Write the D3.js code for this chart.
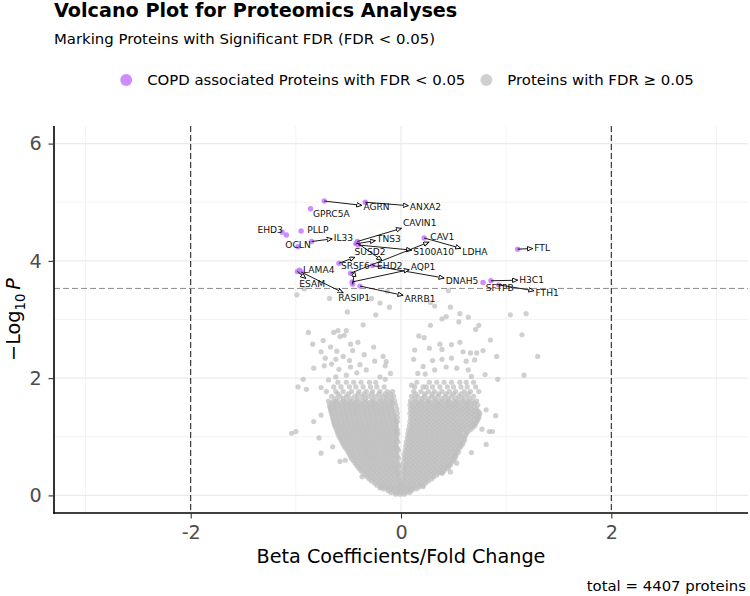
<!DOCTYPE html>
<html><head><meta charset="utf-8">
<script src="https://cdn.jsdelivr.net/npm/d3@7"></script>
<style>body{margin:0;background:#fff} text{font-family:"DejaVu Sans",sans-serif}</style>
</head><body><svg id="chart" width="750" height="596"></svg>
<script>
// ---------- data ----------
const titleText = "Volcano Plot for Proteomics Analyses";
const subtitleText = "Marking Proteins with Significant FDR (FDR < 0.05)";
const legendLabels = ["COPD associated Proteins with FDR < 0.05", "Proteins with FDR \u2265 0.05"];
const xTitle = "Beta Coefficients/Fold Change";
const totalProteins = 4407;
const xTicks = [-2, 0, 2], xTickLabels = ["-2", "0", "2"];
const yTicks = [0, 2, 4, 6], yTickLabels = ["0", "2", "4", "6"];
const xMinor = [-3, -1, 1, 3], yMinor = [1, 3, 5];
const fcCutoff = [-2, 2];
const pCutoff = 3.53;

// significant proteins
const sigNames = ["AGRN","ANXA2","GPRC5A","EHD3","OCLN","PLLP","","IL33","CAVIN1","TNS3","S100A10","EHD2","DNAH5","LDHA","SUSD2","CAV1","SRSF6","AQP1","ARRB1","LAMA4","ESAM","RASIP1","FTL","SFTPB","H3C1","FTH1"];
const sigBeta  = [-0.73,-0.34,-0.86,-1.13,-1.09,-0.95,-0.98,-0.85,-0.415,-0.43,-0.405,-0.42,-0.27,0.22,-0.59,-0.48,-0.46,-0.465,-0.39,-0.965,-0.985,-0.95,1.11,0.78,0.855,0.93];
const sigLogP  = [5.02,5.00,4.89,4.49,4.44,4.51,4.24,4.33,4.33,4.29,4.27,4.31,3.92,4.39,3.96,3.79,3.60,3.64,3.57,3.84,3.82,3.81,4.20,3.63,3.66,3.59];
// repelled label centres (data units)
const labelX = [-0.233,0.233,-0.663,-1.245,-0.979,-0.791,null,-0.548,0.178,-0.116,0.311,-0.107,0.58,0.703,-0.295,0.393,-0.434,0.209,0.181,-0.782,-0.844,-0.445,1.342,0.939,1.242,1.39];
const labelY = [4.918,4.918,4.80,4.53,4.28,4.53,null,4.40,4.648,4.384,4.148,3.915,3.654,4.148,4.154,4.41,3.915,3.90,3.35,3.85,3.607,3.363,4.217,3.539,3.676,3.454];

// non-significant proteins: scattered ones [beta, -log10 p]
const grayPoints = [
[-0.99,3.42],[-0.68,3.36],[-0.20,3.28],[-0.51,3.13],[-0.24,3.08],[-0.36,2.91],[-0.88,2.78],[-0.64,2.78],[-0.60,2.81],[-0.52,2.81],
[-0.84,2.58],[-0.74,2.64],[-0.58,2.71],[-0.54,2.73],[-0.48,2.58],[-0.41,2.61],[-0.76,2.45],[-0.67,2.53],[-0.61,2.46],[-0.46,2.47],
[-0.26,2.53],[-0.72,2.34],[-0.62,2.32],[-0.55,2.37],[-0.49,2.30],[-0.35,2.40],[-0.17,2.37],[-0.14,2.28],[-0.83,2.17],[-0.73,2.21],
[-0.66,2.24],[-0.59,2.15],[-0.48,2.19],[-0.39,2.23],[-0.25,2.29],[-0.15,2.21],[-0.93,1.98],[-0.98,1.85],[-0.90,1.81],[-0.76,1.84],
[-0.69,1.97],[-0.62,2.02],[-0.52,2.05],[-0.42,2.09],[-0.33,2.14],[-0.20,2.02],[-0.15,1.98],[-0.10,2.08],
[-0.92,3.52],[-0.28,3.36],[-0.13,3.48],[-0.11,3.21],
[0.45,3.49],[0.28,3.29],[0.32,3.23],[0.47,3.21],[0.39,3.01],[0.43,3.05],[0.56,3.10],[0.64,3.04],[0.55,2.96],[0.28,2.90],
[0.74,2.90],[0.71,2.83],[0.85,2.65],[0.17,2.72],[0.22,2.69],[0.37,2.58],[0.48,2.57],[0.56,2.61],[0.13,2.48],[0.27,2.51],
[0.39,2.49],[0.59,2.45],[0.66,2.43],[0.72,2.43],[0.78,2.47],[0.91,2.37],[0.12,2.32],[0.30,2.30],[0.39,2.32],[0.48,2.34],
[0.62,2.29],[0.70,2.31],[0.21,2.20],[0.32,2.14],[0.43,2.19],[0.53,2.17],[0.64,2.14],[0.16,2.08],[0.23,2.07],[0.67,2.03],
[0.80,2.06],[0.92,1.98],[0.10,1.88],[0.21,1.85],
[1.04,3.08],[1.19,3.10],[1.15,2.74],[1.30,2.37],[1.17,2.05],
[-1.04,1.06],[-1.00,1.09],[-0.83,1.26],[-0.76,1.37],[-0.78,0.98],[-0.76,0.72],[-0.65,0.83],
[0.90,1.36],[0.84,1.09],[0.87,1.09],[0.81,0.87],[0.67,0.73],
[-0.58,0.58],[-0.53,0.60],[-0.37,0.32],[-0.20,0.13],[0.53,0.55],[0.47,0.40],[0.39,0.38],[0.21,0.15],[0.77,1.13],[0.81,1.46]
];
// non-significant proteins: dense core, one row per -log10 p level
const coreRowY = [0.02,0.08,0.14,0.21,0.28,0.35,0.42,0.49,0.56,0.63,0.70,0.77,0.84,0.91,0.98,1.05,1.12,1.19,1.26,1.33,1.40,1.47,1.54,1.61,1.69,1.77,1.85,1.93];
const coreRowX = [
[-0.05,-0.01,0.03],
[-0.12,-0.074,-0.03,0.016,0.06,0.1],
[-0.19,-0.146,-0.1,-0.056,-0.01,0.034,0.081,0.124,0.17],
[-0.25,-0.21,-0.163,-0.12,-0.076,-0.03,0.011,0.056,0.1,0.146,0.19,0.234],
[-0.3,-0.256,-0.21,-0.166,-0.12,-0.074,-0.03,0.015,0.06,0.104,0.151,0.195,0.24,0.29],
[-0.34,-0.3,-0.254,-0.21,-0.165,-0.121,-0.076,-0.03,0.024,0.07,0.115,0.16,0.206,0.25,0.296,0.34],
[-0.38,-0.334,-0.29,-0.246,-0.2,-0.155,-0.11,-0.064,-0.024,0.02,0.056,0.1,0.145,0.19,0.236,0.28,0.325,0.37,0.41],
[-0.41,-0.37,-0.324,-0.28,-0.236,-0.19,-0.145,-0.1,-0.056,-0.02,0.021,0.065,0.11,0.155,0.201,0.245,0.29,0.335,0.38,0.425,0.455],
[-0.44,-0.395,-0.35,-0.306,-0.26,-0.215,-0.17,-0.126,-0.08,-0.035,0.025,0.07,0.115,0.16,0.205,0.251,0.295,0.34,0.386,0.43,0.48],
[-0.47,-0.425,-0.38,-0.334,-0.29,-0.245,-0.2,-0.156,-0.11,-0.065,-0.025,0.03,0.075,0.12,0.166,0.21,0.255,0.3,0.344,0.39,0.435,0.48,0.51],
[-0.49,-0.446,-0.4,-0.355,-0.31,-0.264,-0.22,-0.175,-0.13,-0.086,-0.04,0.03,0.076,0.12,0.165,0.21,0.256,0.3,0.345,0.39,0.434,0.48,0.525],
[-0.51,-0.465,-0.42,-0.376,-0.33,-0.285,-0.24,-0.194,-0.15,-0.105,-0.06,-0.025,0.04,0.085,0.13,0.176,0.22,0.265,0.31,0.354,0.4,0.445,0.49,0.535],
[-0.54,-0.495,-0.45,-0.404,-0.36,-0.315,-0.27,-0.225,-0.18,-0.136,-0.09,-0.045,0.045,0.09,0.135,0.18,0.226,0.27,0.315,0.36,0.405,0.45,0.496,0.54,0.57],
[-0.56,-0.515,-0.47,-0.425,-0.38,-0.336,-0.29,-0.245,-0.2,-0.155,-0.11,-0.066,-0.03,0.05,0.095,0.14,0.185,0.23,0.275,0.32,0.366,0.41,0.455,0.5,0.545,0.59],
[-0.58,-0.535,-0.49,-0.445,-0.4,-0.355,-0.31,-0.266,-0.22,-0.175,-0.13,-0.085,-0.04,0.06,0.105,0.15,0.195,0.24,0.286,0.33,0.375,0.42,0.465,0.51,0.555,0.6],
[-0.6,-0.555,-0.51,-0.465,-0.42,-0.376,-0.33,-0.285,-0.24,-0.195,-0.15,-0.105,-0.06,-0.03,0.065,0.11,0.155,0.2,0.245,0.29,0.336,0.38,0.425,0.47,0.515,0.56,0.62],
[-0.61,-0.565,-0.52,-0.475,-0.43,-0.385,-0.34,-0.296,-0.25,-0.205,-0.16,-0.115,-0.07,-0.035,0.07,0.115,0.16,0.205,0.25,0.295,0.34,0.386,0.43,0.475,0.52,0.565,0.61,0.66],
[-0.63,-0.585,-0.54,-0.495,-0.45,-0.405,-0.36,-0.315,-0.27,-0.226,-0.18,-0.135,-0.09,-0.045,0.08,0.125,0.17,0.215,0.26,0.305,0.35,0.395,0.44,0.486,0.53,0.575,0.62,0.665,0.7],
[-0.64,-0.595,-0.55,-0.505,-0.46,-0.415,-0.37,-0.325,-0.28,-0.235,-0.19,-0.146,-0.1,-0.055,-0.035,0.085,0.13,0.175,0.22,0.265,0.31,0.355,0.4,0.445,0.49,0.536,0.58,0.625,0.67,0.72],
[-0.65,-0.605,-0.56,-0.515,-0.47,-0.425,-0.38,-0.335,-0.29,-0.245,-0.2,-0.155,-0.11,-0.065,-0.035,0.09,0.135,0.18,0.225,0.27,0.315,0.36,0.405,0.45,0.495,0.54,0.585,0.63,0.675,0.72,0.74],
[-0.66,-0.615,-0.57,-0.525,-0.48,-0.435,-0.39,-0.345,-0.3,-0.255,-0.21,-0.165,-0.12,-0.075,-0.035,0.085,0.13,0.175,0.22,0.265,0.31,0.355,0.4,0.445,0.49,0.535,0.58,0.625,0.67,0.715,0.75],
[-0.67,-0.625,-0.58,-0.535,-0.49,-0.445,-0.4,-0.355,-0.31,-0.265,-0.22,-0.175,-0.13,-0.085,-0.04,0.09,0.135,0.18,0.225,0.27,0.315,0.36,0.405,0.45,0.495,0.54,0.585,0.63,0.675,0.72],
[-0.68,-0.635,-0.59,-0.545,-0.5,-0.455,-0.41,-0.365,-0.32,-0.275,-0.23,-0.185,-0.14,-0.095,-0.05,0.085,0.13,0.175,0.22,0.265,0.31,0.355,0.4,0.445,0.49,0.535,0.58,0.625,0.67,0.73],
[-0.69,-0.64,-0.6,-0.55,-0.51,-0.46,-0.42,-0.37,-0.33,-0.28,-0.24,-0.19,-0.15,-0.1,-0.06,0.09,0.14,0.18,0.23,0.27,0.32,0.36,0.41,0.45,0.5,0.54,0.59,0.63,0.68,0.72],
[-0.66,-0.58,-0.52,-0.44,-0.37,-0.31,-0.24,-0.17,-0.12,-0.07,0.1,0.16,0.22,0.29,0.35,0.42,0.48,0.55,0.61,0.69],
[-0.71,-0.62,-0.55,-0.47,-0.4,-0.33,-0.27,-0.2,-0.13,-0.08,0.12,0.19,0.26,0.32,0.39,0.46,0.52,0.6,0.66,0.74],
[-0.64,-0.57,-0.49,-0.43,-0.36,-0.29,-0.23,-0.16,0.13,0.24,0.3,0.37,0.44,0.5,0.57,0.63,0.71],
[-0.6,-0.52,-0.45,-0.38,-0.3,-0.24,0.15,0.27,0.34,0.41,0.48,0.56,0.62,0.69]
];
// dense core, in-between rows
const midRowY = [0.05,0.11,0.175,0.245,0.315,0.385,0.455,0.525,0.595,0.665,0.735,0.805,0.875,0.945,1.015,1.085,1.155,1.225,1.295,1.365,1.435,1.505,1.575,1.65,1.73];
const midRowX = [
[-0.095,-0.05,-0.005,0.04,0.08],
[-0.165,-0.12,-0.075,-0.03,0.015,0.06,0.105,0.145],
[-0.23,-0.185,-0.14,-0.095,-0.05,-0.005,0.035,0.08,0.125,0.17,0.21],
[-0.28,-0.235,-0.19,-0.145,-0.1,-0.055,-0.01,0.035,0.08,0.125,0.17,0.215,0.26],
[-0.32,-0.28,-0.235,-0.19,-0.145,-0.1,-0.055,-0.02,0.04,0.085,0.13,0.175,0.22,0.265,0.31],
[-0.36,-0.315,-0.27,-0.225,-0.18,-0.135,-0.09,-0.045,-0.015,0.04,0.085,0.13,0.175,0.22,0.265,0.31,0.355,0.39],
[-0.395,-0.35,-0.305,-0.26,-0.215,-0.17,-0.125,-0.08,-0.04,0.04,0.085,0.13,0.175,0.22,0.265,0.31,0.355,0.4,0.44],
[-0.425,-0.38,-0.335,-0.29,-0.245,-0.2,-0.155,-0.11,-0.065,-0.02,0.045,0.09,0.135,0.18,0.225,0.27,0.315,0.36,0.405,0.45,0.47],
[-0.455,-0.41,-0.365,-0.32,-0.275,-0.23,-0.185,-0.14,-0.095,-0.05,0.05,0.095,0.14,0.185,0.23,0.275,0.32,0.365,0.41,0.455,0.5],
[-0.48,-0.435,-0.39,-0.345,-0.3,-0.255,-0.21,-0.165,-0.12,-0.075,-0.035,0.05,0.095,0.14,0.185,0.23,0.275,0.32,0.365,0.41,0.455,0.5,0.52],
[-0.5,-0.455,-0.41,-0.365,-0.32,-0.275,-0.23,-0.185,-0.14,-0.095,-0.05,0.055,0.1,0.145,0.19,0.235,0.28,0.325,0.37,0.415,0.46,0.505,0.545],
[-0.525,-0.48,-0.435,-0.39,-0.345,-0.3,-0.255,-0.21,-0.165,-0.12,-0.075,-0.035,0.065,0.11,0.155,0.2,0.245,0.29,0.335,0.38,0.425,0.47,0.515,0.555],
[-0.55,-0.505,-0.46,-0.415,-0.37,-0.325,-0.28,-0.235,-0.19,-0.145,-0.1,-0.055,0.07,0.115,0.16,0.205,0.25,0.295,0.34,0.385,0.43,0.475,0.52,0.565,0.585],
[-0.57,-0.525,-0.48,-0.435,-0.39,-0.345,-0.3,-0.255,-0.21,-0.165,-0.12,-0.075,-0.04,0.075,0.12,0.165,0.21,0.255,0.3,0.345,0.39,0.435,0.48,0.525,0.57,0.605],
[-0.59,-0.545,-0.5,-0.455,-0.41,-0.365,-0.32,-0.275,-0.23,-0.185,-0.14,-0.095,-0.05,0.08,0.125,0.17,0.215,0.26,0.305,0.35,0.395,0.44,0.485,0.53,0.575,0.61],
[-0.605,-0.56,-0.515,-0.47,-0.425,-0.38,-0.335,-0.29,-0.245,-0.2,-0.155,-0.11,-0.065,-0.04,0.09,0.135,0.18,0.225,0.27,0.315,0.36,0.405,0.45,0.495,0.54,0.585,0.635],
[-0.62,-0.575,-0.53,-0.485,-0.44,-0.395,-0.35,-0.305,-0.26,-0.215,-0.17,-0.125,-0.08,-0.045,0.1,0.145,0.19,0.235,0.28,0.325,0.37,0.415,0.46,0.505,0.55,0.595,0.64,0.68],
[-0.635,-0.59,-0.545,-0.5,-0.455,-0.41,-0.365,-0.32,-0.275,-0.23,-0.185,-0.14,-0.095,-0.05,0.105,0.15,0.195,0.24,0.285,0.33,0.375,0.42,0.465,0.51,0.555,0.6,0.645,0.69,0.71],
[-0.645,-0.6,-0.555,-0.51,-0.465,-0.42,-0.375,-0.33,-0.285,-0.24,-0.195,-0.15,-0.105,-0.06,0.11,0.155,0.2,0.245,0.29,0.335,0.38,0.425,0.47,0.515,0.56,0.605,0.65,0.695,0.73],
[-0.655,-0.61,-0.565,-0.52,-0.475,-0.43,-0.385,-0.34,-0.295,-0.25,-0.205,-0.16,-0.115,-0.07,0.11,0.155,0.2,0.245,0.29,0.335,0.38,0.425,0.47,0.515,0.56,0.605,0.65,0.695,0.74],
[-0.665,-0.62,-0.575,-0.53,-0.485,-0.44,-0.395,-0.35,-0.305,-0.26,-0.215,-0.17,-0.125,-0.08,0.11,0.155,0.2,0.245,0.29,0.335,0.38,0.425,0.47,0.515,0.56,0.605,0.65,0.695,0.735],
[-0.675,-0.63,-0.585,-0.54,-0.495,-0.45,-0.405,-0.36,-0.315,-0.27,-0.225,-0.18,-0.135,-0.09,0.11,0.155,0.2,0.245,0.29,0.335,0.38,0.425,0.47,0.515,0.56,0.605,0.65,0.7],
[-0.66,-0.615,-0.57,-0.525,-0.48,-0.435,-0.39,-0.345,-0.3,-0.255,-0.21,-0.165,-0.12,-0.08,0.11,0.16,0.2,0.25,0.29,0.34,0.38,0.43,0.47,0.52,0.56,0.61,0.65,0.7],
[-0.62,-0.55,-0.48,-0.41,-0.34,-0.27,-0.2,-0.14,-0.09,0.13,0.2,0.26,0.32,0.39,0.45,0.52,0.58,0.65],
[-0.6,-0.5,-0.41,-0.35,-0.28,-0.21,-0.15,-0.1,0.14,0.23,0.3,0.36,0.43,0.5,0.57,0.64]
];

// ---------- drawing ----------
const W = 750, H = 596;
const P = {l: 54, r: 748, t: 126, b: 513};
const purple = "#c77cff", grey = "#bebebe";
const svg = d3.select("#chart");
svg.append("rect").attr("width", W).attr("height", H).attr("fill", "#fff");

const x = d3.scaleLinear().domain([-3.3, 3.3]).range([P.l, P.r]);
const y = d3.scaleLinear().domain([-0.3, 6.3]).range([P.b, P.t]);

// grid
const grid = svg.append("g");
grid.selectAll(".vmin").data(xMinor).join("line")
  .attr("x1", d => x(d)).attr("x2", d => x(d)).attr("y1", P.t).attr("y2", P.b)
  .attr("stroke", "#ebebeb").attr("stroke-width", 0.6);
grid.selectAll(".hmin").data(yMinor).join("line")
  .attr("y1", d => y(d)).attr("y2", d => y(d)).attr("x1", P.l).attr("x2", P.r)
  .attr("stroke", "#ebebeb").attr("stroke-width", 0.6);
grid.selectAll(".vmaj").data(xTicks).join("line")
  .attr("x1", d => x(d)).attr("x2", d => x(d)).attr("y1", P.t).attr("y2", P.b)
  .attr("stroke", "#ebebeb").attr("stroke-width", 1.2);
grid.selectAll(".hmaj").data(yTicks).join("line")
  .attr("y1", d => y(d)).attr("y2", d => y(d)).attr("x1", P.l).attr("x2", P.r)
  .attr("stroke", "#ebebeb").attr("stroke-width", 1.2);

// points
const greyAll = grayPoints.slice();
coreRowY.forEach((yy, i) => coreRowX[i].forEach(xx => greyAll.push([xx, yy])));
midRowY.forEach((yy, i) => midRowX[i].forEach(xx => greyAll.push([xx, yy])));
svg.append("g").selectAll("circle").data(greyAll).join("circle")
  .attr("cx", d => x(d[0])).attr("cy", d => y(d[1])).attr("r", 2.6)
  .attr("fill", grey).attr("fill-opacity", 0.72);

// cutoff lines
svg.append("g").selectAll("line").data(fcCutoff).join("line")
  .attr("x1", d => x(d)).attr("x2", d => x(d)).attr("y1", P.t).attr("y2", P.b)
  .attr("stroke", "#000").attr("stroke-width", 0.9).attr("stroke-dasharray", "6,3");
svg.append("line").attr("x1", P.l).attr("x2", P.r).attr("y1", y(pCutoff)).attr("y2", y(pCutoff))
  .attr("stroke", "#808080").attr("stroke-width", 0.9).attr("stroke-dasharray", "6,3");

const sig = sigNames.map((n, i) => ({name: n, b: sigBeta[i], p: sigLogP[i], lx: labelX[i], ly: labelY[i]}));
svg.append("g").selectAll("circle").data(sig).join("circle")
  .attr("cx", d => x(d.b)).attr("cy", d => y(d.p)).attr("r", 2.7)
  .attr("fill", purple).attr("fill-opacity", 0.88);

// labels + segments
const defs = svg.append("defs");
defs.append("marker").attr("id", "arr").attr("markerUnits", "userSpaceOnUse")
  .attr("markerWidth", 7).attr("markerHeight", 7).attr("refX", 5.5).attr("refY", 2.5)
  .attr("orient", "auto")
  .append("path").attr("d", "M0.3,0.3 L5.5,2.5 L0.3,4.7 Z")
  .attr("fill", "#fff").attr("stroke", "#000").attr("stroke-width", 0.9);
const lab = svg.append("g");
const segG = lab.append("g");
sig.filter(d => d.name).forEach(d => {
  const cx = x(d.lx), cy = y(d.ly);
  const t = lab.append("text").attr("x", cx).attr("y", cy).attr("dy", "0.35em")
    .attr("text-anchor", "middle").attr("font-size", "9.1px").attr("fill", "#111").text(d.name);
  const w = t.node().getComputedTextLength() / 2 + 1.5, h = 5.5;
  const px = x(d.b), py = y(d.p);
  const dx = px - cx, dy = py - cy;
  const s = Math.min(Math.abs(dx) > 0 ? w / Math.abs(dx) : Infinity, Math.abs(dy) > 0 ? h / Math.abs(dy) : Infinity);
  if (s >= 1) return;
  const ex = cx + dx * s, ey = cy + dy * s;
  if (Math.hypot(px - ex, py - ey) < 8) return;
  segG.append("line").attr("x1", px).attr("y1", py).attr("x2", ex).attr("y2", ey)
    .attr("stroke", "#000").attr("stroke-width", 0.9).attr("marker-end", "url(#arr)");
});

// axes
const xAxis = svg.append("g").attr("transform", `translate(0,${P.b})`)
  .call(d3.axisBottom(x).tickValues(xTicks).tickFormat((d, i) => xTickLabels[i]).tickSize(5.5).tickSizeOuter(0).tickPadding(7));
const yAxis = svg.append("g").attr("transform", `translate(${P.l},0)`)
  .call(d3.axisLeft(y).tickValues(yTicks).tickFormat((d, i) => yTickLabels[i]).tickSize(5.5).tickSizeOuter(0).tickPadding(6.8));
[xAxis, yAxis].forEach(a => {
  a.select(".domain").attr("stroke", "#000").attr("stroke-width", 1.6);
  a.selectAll(".tick line").attr("stroke", "#333").attr("stroke-width", 1.1);
  a.selectAll(".tick text").attr("font-size", "19.2px").attr("fill", "#4d4d4d")
    .attr("font-family", "DejaVu Sans");
});
xAxis.select(".domain").attr("d", `M${P.l - 0.8},0H${P.r}`);
yAxis.select(".domain").attr("d", `M0,${P.t}V${P.b + 0.8}`);

// axis titles
svg.append("text").attr("x", (P.l + P.r) / 2).attr("y", 563).attr("text-anchor", "middle")
  .attr("font-size", "19.2px").attr("fill", "#000").text(xTitle);
const yt = svg.append("text").attr("transform", `translate(20,${(P.t + P.b) / 2}) rotate(-90)`)
  .attr("text-anchor", "middle").attr("font-size", "19.2px").attr("fill", "#000");
yt.append("tspan").text("\u2212Log");
yt.append("tspan").attr("font-size", "13.4px").attr("dy", 4.5).text("10");
yt.append("tspan").attr("dy", -4.5).text("\u2009");
yt.append("tspan").attr("font-style", "italic").text("P");

// title, subtitle, caption
svg.append("text").attr("x", P.l).attr("y", 17).attr("font-size", "19.2px").attr("font-weight", "bold")
  .attr("fill", "#000").text(titleText);
svg.append("text").attr("x", P.l).attr("y", 44).attr("font-size", "14.9px").attr("fill", "#000").text(subtitleText);
svg.append("text").attr("x", 746).attr("y", 591).attr("text-anchor", "end").attr("font-size", "14.9px")
  .attr("fill", "#000").text(`total = ${totalProteins} proteins`);

// legend
const leg = svg.append("g");
const legColors = [purple, grey];
let cur = 0;
const items = legendLabels.map((l, i) => {
  const g = leg.append("g");
  g.append("circle").attr("cx", 6).attr("cy", 0).attr("r", 5.9).attr("fill", legColors[i]).attr("fill-opacity", i ? 0.72 : 0.88);
  const t = g.append("text").attr("x", 27).attr("y", 5).attr("font-size", "14.9px").attr("fill", "#000").text(l);
  const w = 27 + t.node().getComputedTextLength();
  const x0 = cur;
  cur += w + 15;
  return {g, x0};
});
const totalW = cur - 15;
const startX = 407 - totalW / 2;
items.forEach(it => it.g.attr("transform", `translate(${startX + it.x0},80)`));
</script></body></html>
